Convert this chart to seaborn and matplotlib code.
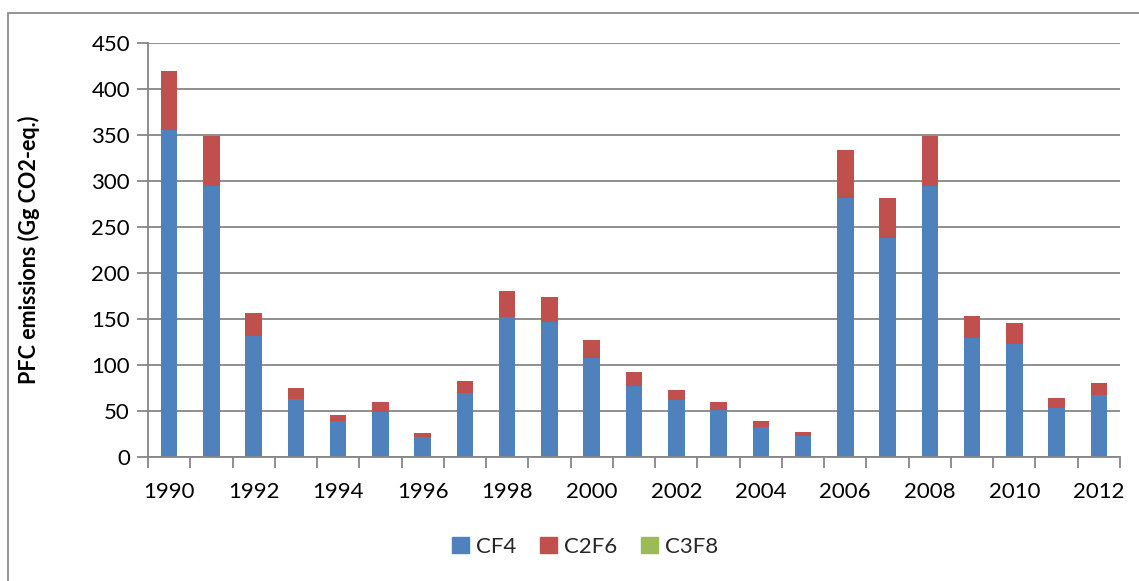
import pandas as pd
import seaborn as sns
import matplotlib.pyplot as plt
from matplotlib.patches import Patch, Rectangle

years = list(range(1990, 2013))
cf4 = [355, 295, 131, 63, 39, 49, 22, 70, 152, 147, 108, 77, 62, 51, 33, 23,
       282, 238, 295, 129, 123, 53, 67]
c2f6 = [65, 54, 25, 12, 7, 11, 4, 13, 28, 27, 19, 15, 11, 9, 6, 4,
        52, 43, 54, 24, 23, 11, 13]
c3f8 = [0.05, 0.05, 0.05, 0.05, 0.05, 0.05, 0.05, 0.05, 0.05, 0.05, 0.05, 0.05,
        0.05, 0.05, 0.05, 0.05, 0.05, 0.05, 0.05, 0.05, 0.05, 0.4, 0.4]

df = pd.DataFrame({'year': [str(y) for y in years], 'CF4': cf4, 'C2F6': c2f6, 'C3F8': c3f8})
df['lvl1'] = df['CF4']
df['lvl2'] = df['CF4'] + df['C2F6']
df['lvl3'] = df['lvl2'] + df['C3F8']

colors = {'CF4': '#4F81BD', 'C2F6': '#C0504D', 'C3F8': '#9BBB59'}

sns.set_theme(style="white")
plt.rcParams['font.family'] = ['Lato', 'DejaVu Sans']

fig = plt.figure(figsize=(11.39, 5.81), dpi=100)
ax = fig.add_axes([148 / 1139, 1 - 457 / 581, (1120 - 148) / 1139, (457 - 43) / 581])

# stacked bars drawn as cumulative layers, top layer first
for col, c in [('lvl3', colors['C3F8']), ('lvl2', colors['C2F6']), ('lvl1', colors['CF4'])]:
    sns.barplot(data=df, x='year', y=col, color=c, width=0.39, ax=ax,
                saturation=1, linewidth=0)

ax.set_ylim(0, 450)
ax.set_xlim(-0.5, len(years) - 0.5)
ax.set_yticks(range(0, 451, 50))
ax.yaxis.grid(True, color='#868686', linewidth=1.3)
ax.set_axisbelow(True)

ax.set_xticks(range(len(years)))
ax.set_xticklabels([str(y) if y % 2 == 0 else '' for y in years])
ax.set_xticks([i - 0.5 for i in range(len(years) + 1)], minor=True)
ax.tick_params(axis='x', which='major', length=0, pad=18, labelsize=16, colors='black')
ax.tick_params(axis='x', which='minor', length=8, width=1.3, color='#868686', bottom=True)
ax.tick_params(axis='y', length=8, width=1.3, color='#868686', left=True, labelsize=16,
               pad=5, labelcolor='black')

for s in ['top', 'right']:
    ax.spines[s].set_visible(False)
for s in ['left', 'bottom']:
    ax.spines[s].set_color('#868686')
    ax.spines[s].set_linewidth(1.3)

ax.set_xlabel('')
ax.set_ylabel('PFC emissions (Gg CO2-eq.)', fontsize=15.5, fontweight='bold', color='black')
ax.yaxis.set_label_coords((40 - 148) / 972, 0.5)

handles = [Patch(color=colors[k], label=k) for k in ['CF4', 'C2F6', 'C3F8']]
fig.legend(handles=handles, loc='center', bbox_to_anchor=(585 / 1139, 1 - 547 / 581),
           ncol=3, frameon=False, fontsize=16, handlelength=0.75, handleheight=0.75,
           handletextpad=0.3, columnspacing=1.1)

# outer chart border (left and top visible)
fig.patches.append(Rectangle((8 / 1139, -0.1), 1.2, 1.1 - 13 / 581, transform=fig.transFigure,
                             fill=False, edgecolor='#8c8c8c', linewidth=1.3))

fig.savefig('out.png', dpi=100)
